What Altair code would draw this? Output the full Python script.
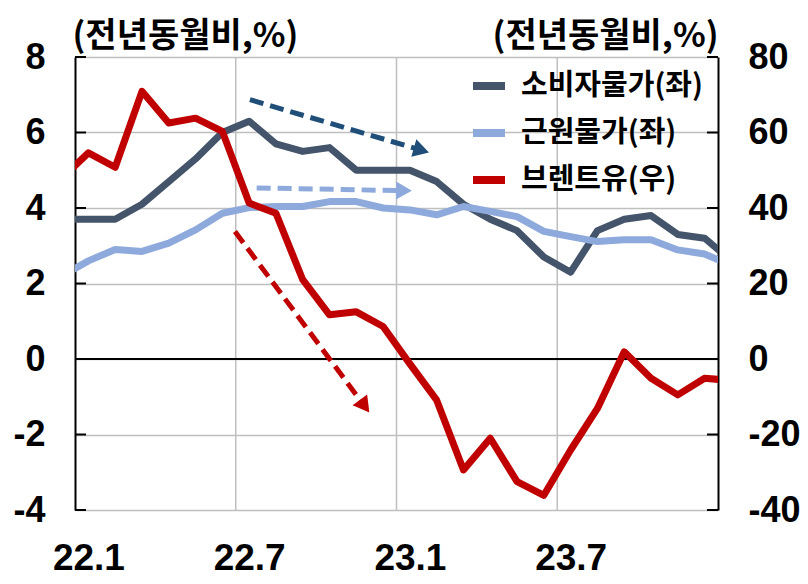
import altair as alt
import pandas as pd

FONT = "Noto Sans CJK KR"
NUM_FONT = "Liberation Sans"

# ---------------- data ----------------
months = ["21.12", "22.1", "22.2", "22.3", "22.4", "22.5", "22.6", "22.7", "22.8", "22.9",
          "22.10", "22.11", "22.12", "23.1", "23.2", "23.3", "23.4", "23.5", "23.6", "23.7",
          "23.8", "23.9", "23.10", "23.11", "23.12", "24.1"]
cpi = [3.7, 3.7, 3.7, 4.1, 4.7, 5.3, 6.0, 6.3, 5.7, 5.5, 5.6, 5.0, 5.0,
       5.0, 4.7, 4.1, 3.7, 3.4, 2.7, 2.3, 3.4, 3.7, 3.8, 3.3, 3.2, 2.6]
core = [2.2, 2.6, 2.9, 2.85, 3.07, 3.42, 3.86, 4.01, 4.04, 4.04, 4.17, 4.17, 4.0,
        3.95, 3.82, 4.04, 3.91, 3.77, 3.38, 3.24, 3.11, 3.16, 3.16, 2.89, 2.78, 2.48]
brent = [47.8, 54.6, 50.8, 70.9, 62.5, 63.8, 60.3, 41.3, 38.6, 21.0, 11.7, 12.5, 8.6,
         -1.3, -10.9, -29.4, -21.0, -32.5, -36.1, -24.1, -13.1, 1.9, -5.1, -9.5, -5.1, -5.7]

series_names = ["소비자물가(좌)", "근원물가(좌)", "브렌트유(우)"]
series_colors = ["#44546A", "#8EA9DB", "#C00000"]

x_tick_labels = ["22.1", "22.7", "23.1", "23.7"]
left_ticks = [-4, -2, 0, 2, 4, 6, 8]
right_ticks = [-40, -20, 0, 20, 40, 60, 80]
vgrid_pos = [6, 12, 18]

# trend arrows (annotation, in left-axis units)
arrow_t0 = [6.53, 6.78, 5.97]
arrow_v0 = [6.87, 4.53, 3.38]
arrow_t1 = [12.93, 12.28, 10.81]
arrow_v1 = [5.53, 4.46, -1.25]
arrow_angle = [16, 1, 53]
arrow_colors = ["#1F4E79", "#8EA9DB", "#C00000"]

# ---------------- tables ----------------
t = [i - 0.5 for i in range(len(months))]
left_df = pd.DataFrame({
    "t": t * 2,
    "value": cpi + core,
    "series": [series_names[0]] * len(months) + [series_names[1]] * len(months),
})
right_df = pd.DataFrame({"t": t, "value": brent, "series": [series_names[2]] * len(months)})
arrows_df = pd.DataFrame({"t": arrow_t0, "value": arrow_v0, "t2": arrow_t1, "value2": arrow_v1,
                          "ang": arrow_angle, "col": arrow_colors})
heads_df = pd.DataFrame({"t": arrow_t1, "value": arrow_v1, "ang": arrow_angle, "col": arrow_colors})
vgrid_df = pd.DataFrame({"t": vgrid_pos})
zero_df = pd.DataFrame({"value": [0]})
lt_df = pd.DataFrame({"value": left_ticks})
rt_df = pd.DataFrame({"value": right_ticks})

# ---------------- encodings ----------------
label_expr = "[" + ",".join("'%s'" % s for s in x_tick_labels) + "][floor(datum.value/6)]"
x_enc = alt.X("t:Q", scale=alt.Scale(domain=[0, 24], nice=False, zero=False),
              axis=alt.Axis(values=[0.5, 6.5, 12.5, 18.5], labelExpr=label_expr, title=None,
                            grid=False, ticks=False, tickSize=0, domain=False,
                            labelFontSize=37, labelPadding=30))

left_axis = alt.Axis(values=left_ticks, title="(전년동월비,%)", titleAngle=0, titleAlign="left",
                     titleBaseline="middle", titleX=-3, titleY=-21,
                     labelExpr="'' + datum.value",
                     ticks=False, tickSize=0, labelPadding=30, labelFontSize=36,
                     domainColor="black", domainWidth=2,
                     grid=True, gridColor="#BFBFBF", gridWidth=1.5)
right_axis = alt.Axis(values=right_ticks, orient="right", title="(전년동월비,%)", titleAngle=0,
                      titleAlign="right", titleBaseline="middle", titleX=0, titleY=-21,
                      labelExpr="'' + datum.value",
                      ticks=False, tickSize=0, labelPadding=30, labelFontSize=36,
                      domainColor="black", domainWidth=2, grid=False)

y_left = alt.Y("value:Q", scale=alt.Scale(domain=[-4, 8], nice=False, zero=False), axis=left_axis)
y_right = alt.Y("value:Q", scale=alt.Scale(domain=[-40, 80], nice=False, zero=False), axis=right_axis)

color_enc = alt.Color("series:N",
                      scale=alt.Scale(domain=series_names, range=series_colors),
                      sort=series_names,
                      legend=alt.Legend(title=None, orient="none", legendX=394, legendY=9,
                                        symbolType="stroke", symbolStrokeWidth=8, symbolSize=1024,
                                        labelFontSize=29, labelFont=FONT, labelFontWeight="bold",
                                        labelOffset=12, rowPadding=11, labelLimit=400))

# ---------------- layers ----------------
vgrid = alt.Chart(vgrid_df).mark_rule(color="#BFBFBF", strokeWidth=1.5).encode(x=x_enc)
zero = alt.Chart(zero_df).mark_rule(color="black", strokeWidth=2).encode(y=y_left)
lticks = alt.Chart(lt_df).mark_rule(color="black", strokeWidth=2).encode(
    y=y_left, x=alt.value(0), x2=alt.value(11))
left_lines = alt.Chart(left_df).mark_line(strokeWidth=7, clip=True, strokeJoin="round").encode(
    x=x_enc, y=y_left, color=color_enc, detail="series:N")
arrow_lines = alt.Chart(arrows_df).mark_rule(strokeWidth=5, strokeDash=[14, 7]).encode(
    x=x_enc, x2="t2:Q", y=y_left, y2="value2:Q", stroke=alt.Stroke("col:N", scale=None))
arrow_heads = alt.Chart(heads_df).mark_point(shape="triangle-right", filled=True, size=330,
                                              opacity=1).encode(
    x=x_enc, y=y_left, fill=alt.Fill("col:N", scale=None), angle=alt.Angle("ang:Q", scale=None))

left_layer = alt.layer(vgrid, zero, lticks, left_lines, arrow_lines, arrow_heads)

rticks = alt.Chart(rt_df).mark_rule(color="black", strokeWidth=2).encode(
    y=y_right, x=alt.value(632), x2=alt.value(643))
right_line = alt.Chart(right_df).mark_line(strokeWidth=7, clip=True, strokeJoin="round").encode(
    x=x_enc, y=y_right, color=color_enc)
right_layer = alt.layer(right_line, rticks)

chart = alt.layer(left_layer, right_layer).resolve_scale(y="independent").properties(
    width=643, height=453,
    autosize=alt.AutoSizeParams(type="none"),
    padding={"left": 67, "top": 49, "right": 82, "bottom": 74},
).configure_view(stroke=None).configure_axis(
    labelFont=NUM_FONT, labelFontWeight="bold", labelColor="black",
    titleFont=FONT, titleFontWeight="bold", titleFontSize=34, titleColor="black",
).configure_legend(labelColor="black")

chart.save("out.html", embed_options={"renderer": "svg", "actions": False})
